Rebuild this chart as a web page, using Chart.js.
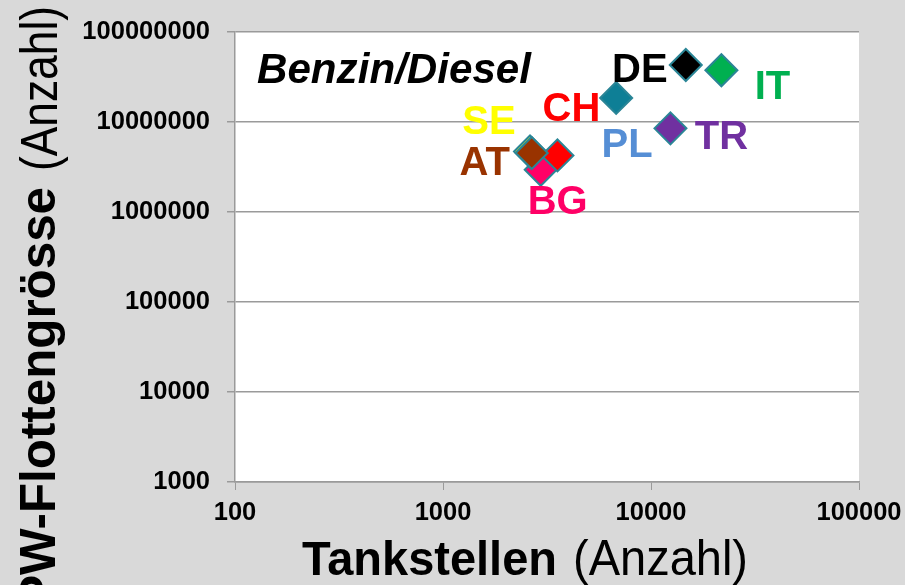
<!DOCTYPE html>
<html>
<head>
<meta charset="utf-8">
<script src="https://cdn.jsdelivr.net/npm/chart.js@4.4.0/dist/chart.umd.min.js"></script>
<style>
  html, body { margin: 0; padding: 0; background: #d9d9d9; }
  #wrap { width: 905px; height: 585px; }
</style>
</head>
<body>
<div id="wrap"><canvas id="scatter-chart" width="905" height="585"></canvas></div>
<script>
// Laender (Reihenfolge = Zeichenreihenfolge, spaetere liegen oben)
var countries   = ['BG', 'CH', 'SE', 'AT', 'PL', 'TR', 'DE', 'IT'];
var tankstellen = [2950, 3550, 2620, 2670, 6800, 12400, 14700, 21800];
var flotte      = [2950000, 4250000, 4700000, 4520000, 18500000, 8500000, 43000000, 37600000];

var markerColors = ['#ff0066', '#ff0000', '#ffff00', '#993300', '#0e7f96', '#7030a0', '#000000', '#00b050'];
var labelColors  = ['#ff0066', '#ff0000', '#ffff00', '#993300', '#558ed5', '#7030a0', '#000000', '#00b050'];
// Abstand Beschriftung -> Punkt (px)
var labelOffsets = [[17, 30], [14, -48], [-41, -32], [-47, 8], [11, 45], [51, 7], [-46, 3], [51, 15]];

var xTicks = [100, 1000, 10000, 100000];
var yTicks = [1000, 10000, 100000, 1000000, 10000000, 100000000];

var FONT = "'Liberation Sans', Arial, sans-serif";

var points = tankstellen.map(function (x, i) { return { x: x, y: flotte[i] }; });

var bgPlugin = {
  id: 'bg',
  beforeDraw: function (chart) {
    var ctx = chart.ctx, a = chart.chartArea;
    ctx.save();
    ctx.fillStyle = '#d9d9d9';
    ctx.fillRect(0, 0, chart.width, chart.height);
    ctx.fillStyle = '#ffffff';
    ctx.fillRect(a.left, a.top, a.right - a.left, a.bottom - a.top);
    ctx.restore();
  }
};

var labelPlugin = {
  id: 'countryLabels',
  afterDatasetsDraw: function (chart) {
    var ctx = chart.ctx;
    var xs = chart.scales.x, ys = chart.scales.y;
    ctx.save();
    ctx.font = 'bold 40px ' + FONT;
    ctx.textAlign = 'center';
    ctx.textBaseline = 'alphabetic';
    countries.forEach(function (c, i) {
      var px = xs.getPixelForValue(tankstellen[i]) + labelOffsets[i][0];
      var py = ys.getPixelForValue(flotte[i]) + labelOffsets[i][1];
      ctx.fillStyle = labelColors[i];
      ctx.fillText(c, px, py + 14);
    });
    ctx.restore();
  }
};

function drawPart(ctx, text, font, x, y, targetWidth) {
  ctx.font = font;
  var s = targetWidth / ctx.measureText(text).width;
  ctx.save();
  ctx.translate(x, y);
  ctx.scale(s, 1);
  ctx.fillText(text, 0, 0);
  ctx.restore();
}

var titlePlugin = {
  id: 'titles',
  afterDraw: function (chart) {
    var ctx = chart.ctx;
    ctx.save();
    ctx.fillStyle = '#000000';
    ctx.textBaseline = 'alphabetic';
    ctx.textAlign = 'left';

    // Text im Diagramm
    drawPart(ctx, 'Benzin/Diesel', 'italic bold 42px ' + FONT, 257, 83, 274);

    // x-Achsentitel
    drawPart(ctx, 'Tankstellen', 'bold 49px ' + FONT, 302, 575, 255);
    drawPart(ctx, '(Anzahl)', '50px ' + FONT, 573, 575, 175);

    // y-Achsentitel (gedreht)
    ctx.save();
    ctx.translate(57, 0);
    ctx.rotate(-Math.PI / 2);
    // lokale x-Achse zeigt nach oben: screen y = -local x
    ctx.font = 'bold 50px ' + FONT;
    var sb = 326 / ctx.measureText('Flottengrösse').width;
    var wFull = ctx.measureText('PW-Flottengrösse').width * sb;
    drawPart(ctx, 'PW-Flottengrösse', 'bold 50px ' + FONT, -(187 + wFull), -2, wFull);
    drawPart(ctx, '(Anzahl)', '52px ' + FONT, -171, 0, 165);
    ctx.restore();

    ctx.restore();
  }
};

var tickFont = { family: FONT, size: 25.5, weight: 'bold' };

var chart = new Chart(document.getElementById('scatter-chart').getContext('2d'), {
  type: 'scatter',
  data: {
    datasets: [{
      data: points,
      pointStyle: 'rectRot',
      pointRadius: 16,
      pointHoverRadius: 16,
      pointBorderWidth: 2,
      pointBackgroundColor: markerColors,
      pointBorderColor: '#2a8596'
    }]
  },
  options: {
    responsive: false,
    animation: false,
    devicePixelRatio: 1,
    layout: { padding: { left: 0, top: 32, right: 46, bottom: 0 } },
    plugins: { legend: { display: false }, tooltip: { enabled: false } },
    scales: {
      x: {
        type: 'logarithmic',
        min: 100,
        max: 100000,
        afterBuildTicks: function (scale) {
          scale.ticks = xTicks.map(function (v) { return { value: v }; });
        },
        afterFit: function (scale) {
          scale.height = 103;
          scale.paddingLeft = 0;
          scale.paddingRight = 0;
        },
        ticks: {
          font: tickFont,
          color: '#000000',
          padding: 8,
          maxRotation: 0,
          autoSkip: false,
          callback: function (v) { return String(v); }
        },
        grid: { drawOnChartArea: false, drawTicks: true, tickLength: 8, color: '#9a9a9a' },
        border: { display: true, color: '#9a9a9a', width: 1.5 }
      },
      y: {
        type: 'logarithmic',
        min: 1000,
        max: 100000000,
        afterBuildTicks: function (scale) {
          scale.ticks = yTicks.map(function (v) { return { value: v }; });
        },
        afterFit: function (scale) {
          scale.width = 235;
          scale.paddingTop = 0;
          scale.paddingBottom = 0;
        },
        ticks: {
          font: tickFont,
          color: '#000000',
          padding: 17,
          autoSkip: false,
          callback: function (v) { return String(v); }
        },
        grid: { drawOnChartArea: true, drawTicks: true, tickLength: 8, color: '#9a9a9a', lineWidth: 1.5 },
        border: { display: true, color: '#9a9a9a', width: 1.5 }
      }
    }
  },
  plugins: [bgPlugin, labelPlugin, titlePlugin]
});
</script>
</body>
</html>
